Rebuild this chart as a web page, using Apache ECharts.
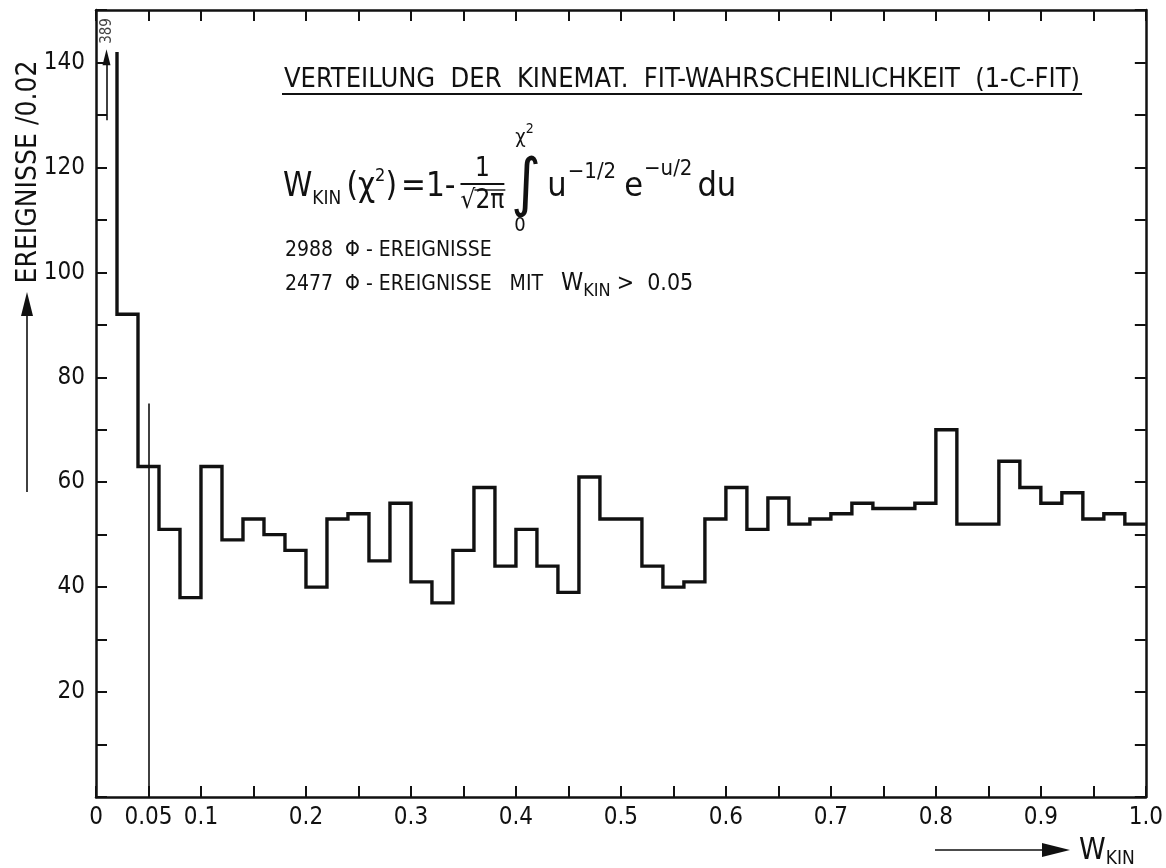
<!DOCTYPE html>
<html>
<head>
<meta charset="utf-8">
<script src="https://cdn.jsdelivr.net/npm/echarts@6/dist/echarts.min.js"></script>
<style>
  html, body { margin: 0; padding: 0; background: #ffffff; }
  #chart { width: 1166px; height: 868px; }
</style>
</head>
<body>
<div id="chart"></div>
<script>
// Events per W_KIN bin (bin width 0.02, 0.00 ... 1.00)
const binWidth = 0.02;
const counts = [389, 92, 63, 51, 38, 63, 49, 53, 50, 47,
                40, 53, 54, 45, 56, 41, 37, 47, 59, 44,
                51, 44, 39, 61, 53, 53, 44, 40, 41, 53,
                59, 51, 57, 52, 53, 54, 56, 55, 55, 56,
                70, 52, 52, 64, 59, 56, 58, 53, 54, 52];
// W_KIN cut and the height of its marker line
const cutValue = 0.05;
const cutLineTop = 75;
// the overflowing first bin is drawn up to this height, its count written beside it
const overflowTop = 142;
const overflowArrow = [129, 141];
// axis labels
const xTickLabels = ['0', '0.05', '0.1', '0.2', '0.3', '0.4', '0.5', '0.6', '0.7', '0.8', '0.9', '1.0'];
const yTickLabels = ['20', '40', '60', '80', '100', '120', '140'];

const FAM = "'DejaVu Sans Condensed','Liberation Sans Narrow','Roboto Condensed','DejaVu Sans',sans-serif";
const INK = '#111111';

// outline of the histogram as a step path
const steps = [[binWidth, Math.min(counts[0], overflowTop)]];
for (let i = 1; i < counts.length; i++) {
  steps.push([i * binWidth, counts[i]]);
  steps.push([(i + 1) * binWidth, counts[i]]);
}

function xLabel(v) {
  for (const s of xTickLabels) if (Math.abs(parseFloat(s) - v) < 1e-6) return s;
  return '';
}
function yLabel(v) {
  return yTickLabels.indexOf(String(Math.round(v))) >= 0 ? String(Math.round(v)) : '';
}

// text measurement for laying out the formula
const mctx = document.createElement('canvas').getContext('2d');
function tw(t, size) { mctx.font = size + 'px ' + FAM; return mctx.measureText(t).width; }
function txt(t, size, x, baseline, extra) {
  return Object.assign({
    type: 'text', x: x, y: baseline - 0.3 * size, silent: true,
    style: { text: t, font: size + 'px ' + FAM, fill: INK, verticalAlign: 'middle', align: 'left' }
  }, extra || {});
}
function row(els, x, baseline, items) {
  for (const it of items) {
    if (it.gap !== undefined) { x += it.gap; continue; }
    els.push(txt(it.t, it.s, x, baseline + (it.dy || 0)));
    x += tw(it.t, it.s);
  }
  return x;
}
function hline(x1, x2, y, w) {
  return { type: 'line', silent: true, shape: { x1: x1, y1: y, x2: x2, y2: y }, style: { stroke: INK, lineWidth: w || 1.5 } };
}

const gfx = [];
// heading with underline
const headX = 284, headBase = 88, headSize = 27;
const headText = 'VERTEILUNG  DER  KINEMAT.  FIT-WAHRSCHEINLICHKEIT  (1-C-FIT)';
gfx.push(txt(headText, headSize, headX, headBase));
gfx.push(hline(headX - 2, headX + tw(headText, headSize) + 2, headBase + 6, 1.8));

// W_KIN(chi^2) = 1 - 1/sqrt(2 pi) * int_0^{chi^2} u^{-1/2} e^{-u/2} du
const fb = 197, F = 33, S = 20;
let x = row(gfx, 283, fb, [
  { t: 'W', s: F }, { t: 'KIN', s: 19, dy: 8 }, { gap: 5 },
  { t: '(χ', s: F }, { t: '2', s: 18, dy: -15 }, { t: ')', s: F }, { gap: 4 },
  { t: '=1-', s: F }, { gap: 5 }
]);
const denom = '√2π', fs = 26;
const dw = tw(denom, fs);
gfx.push(txt('1', fs, x + dw / 2 - tw('1', fs) / 2, fb - 20));
gfx.push(hline(x, x + dw, fb - 13, 1.8));
gfx.push(txt(denom, fs, x, fb + 12));
gfx.push(hline(x + tw('√', fs) - 1, x + dw + 1, fb - 7, 1.4));
x += dw + 7;
gfx.push(txt('∫', 64, x, fb + 10));
gfx.push(txt('χ', S, x + 4, fb - 53));
gfx.push(txt('2', 14, x + 4 + tw('χ', S), fb - 63));
gfx.push(txt('0', S, x + 3, fb + 35));
x += tw('∫', 64) + 6;
row(gfx, x, fb, [
  { t: 'u', s: 34 }, { gap: 1 }, { t: '−1/2', s: 22, dy: -18 }, { gap: 8 },
  { t: 'e', s: 34 }, { gap: 1 }, { t: '−u/2', s: 22, dy: -21 }, { gap: 5 },
  { t: 'du', s: 34 }
]);

// event counts
gfx.push(txt('2988  Φ - EREIGNISSE', 21, 285, 257));
row(gfx, 285, 291, [
  { t: '2477  Φ - EREIGNISSE   MIT   ', s: 21 }, { t: 'W', s: 25 }, { t: 'KIN', s: 18, dy: 6 },
  { gap: 6 }, { t: '>  0.05', s: 23 }
]);

// y axis title with arrow
gfx.push({
  type: 'text', x: 29, y: 172, rotation: Math.PI / 2, silent: true,
  style: { text: 'EREIGNISSE /0.02', font: '28px ' + FAM, fill: INK, align: 'center', verticalAlign: 'middle' }
});
gfx.push({ type: 'line', silent: true, shape: { x1: 27, y1: 492, x2: 27, y2: 314 }, style: { stroke: INK, lineWidth: 1.6 } });
gfx.push({ type: 'polygon', silent: true, shape: { points: [[27, 292], [21, 316], [33, 316]] }, style: { fill: INK } });

// x axis title with arrow
gfx.push({ type: 'line', silent: true, shape: { x1: 935, y1: 850, x2: 1045, y2: 850 }, style: { stroke: INK, lineWidth: 1.6 } });
gfx.push({ type: 'polygon', silent: true, shape: { points: [[1070, 850], [1042, 843], [1042, 857]] }, style: { fill: INK } });
row(gfx, 1079, 860, [{ t: 'W', s: 30 }, { t: 'KIN', s: 19, dy: 5 }]);

const axisCommon = {
  type: 'value',
  axisLine: { show: true, onZero: false, lineStyle: { color: INK, width: 2.5 } },
  axisTick: { show: true, inside: true, length: 11, lineStyle: { color: INK, width: 2 } },
  splitLine: { show: false },
  minorTick: { show: false }
};

const chart = echarts.init(document.getElementById('chart'), null, { renderer: 'canvas' });
chart.setOption({
  animation: false,
  backgroundColor: '#ffffff',
  grid: { left: 96, right: 20, top: 10, bottom: 71, containLabel: false },
  xAxis: [
    Object.assign({}, axisCommon, {
      position: 'bottom', min: 0, max: 1, interval: 0.05,
      axisLabel: { formatter: xLabel, color: INK, fontSize: 24, fontFamily: FAM, margin: 9, hideOverlap: false }
    }),
    Object.assign({}, axisCommon, {
      position: 'top', min: 0, max: 1, interval: 0.05, axisLabel: { show: false }
    })
  ],
  yAxis: [
    Object.assign({}, axisCommon, {
      position: 'left', min: 0, max: 150, interval: 10,
      axisLabel: { formatter: yLabel, color: INK, fontSize: 24, fontFamily: FAM, margin: 11 }
    }),
    Object.assign({}, axisCommon, {
      position: 'right', min: 0, max: 150, interval: 10, axisLabel: { show: false }
    })
  ],
  graphic: gfx,
  series: [
    {
      name: 'Ereignisse', type: 'line', data: steps, symbol: 'none', silent: true,
      lineStyle: { color: INK, width: 3.4, join: 'miter' },
      markLine: {
        silent: true, animation: false,
        label: { show: false },
        data: [
          [{ coord: [cutValue, 0], symbol: 'none' },
           { coord: [cutValue, cutLineTop], symbol: 'none', lineStyle: { color: INK, width: 1.6, type: 'solid' } }],
          [{ coord: [binWidth / 2, overflowArrow[0]], symbol: 'none' },
           { coord: [binWidth / 2, overflowArrow[1]], symbol: 'triangle', symbolSize: [8, 16],
             lineStyle: { color: INK, width: 1.6, type: 'solid' } }]
        ]
      }
    },
    {
      name: 'Überlauf', type: 'scatter', data: [[binWidth / 2 + 0.001, overflowArrow[1] + 5]],
      symbolSize: 0, silent: true,
      label: {
        show: true, position: 'inside', rotate: 90, formatter: String(counts[0]),
        color: INK, fontSize: 15, fontFamily: FAM
      }
    }
  ]
});
</script>
</body>
</html>
